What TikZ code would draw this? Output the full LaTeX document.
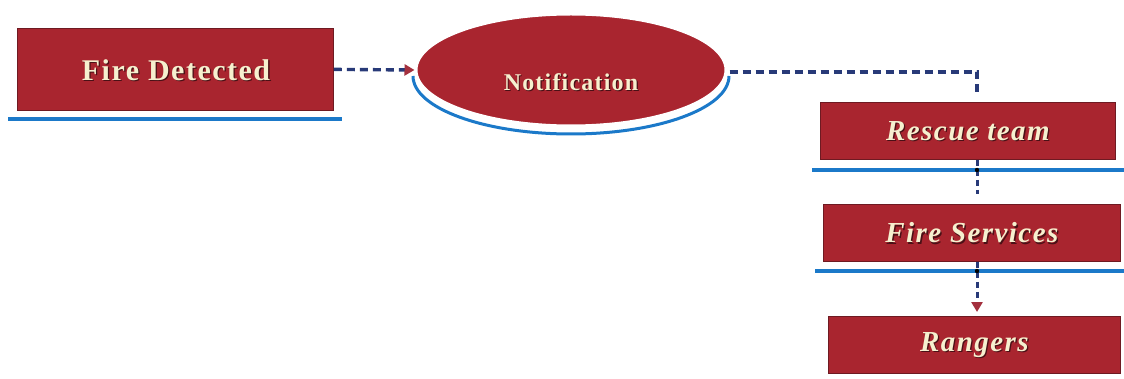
\documentclass[tikz,border=0pt]{standalone}
\usepackage{fontspec}
\setmainfont{Liberation Serif}
\newfontfamily\labelfont[LetterSpace=5]{Liberation Serif}
\usetikzlibrary{arrows.meta,shapes.geometric,calc}
\definecolor{boxred}{HTML}{A9252F}
\definecolor{boxedge}{HTML}{6E1A22}
\definecolor{labelcream}{HTML}{F6F0CF}
\definecolor{labelshade}{HTML}{4A1016}
\definecolor{underblue}{HTML}{1B79C9}
\definecolor{flownavy}{HTML}{283A78}
\definecolor{tipred}{HTML}{A4303E}
\tikzset{
  redbox/.style={draw=boxedge, line width=0.8pt, fill=boxred, rectangle, inner sep=0pt, anchor=north west},
  sidefont/.style={font=\labelfont\bfseries\itshape\fontsize{29}{32}\selectfont},
  boxtext/.style={text=labelcream, sidefont},
  boxshade/.style={text=labelshade, sidefont, xshift=1.3pt, yshift=-1.3pt},
  underline/.style={draw=underblue, line width=4pt},
  flow/.style={draw=flownavy, line width=3.4pt, dash pattern=on 8pt off 5pt},
  stepflow/.style={draw=flownavy, line width=3pt, dash pattern=on 6pt off 4pt},
  flowtip/.style={-{Triangle[length=10pt,width=11pt,fill=tipred,color=tipred]}}
}
\begin{document}
\begin{tikzpicture}[x=1pt,y=-1pt]
\useasboundingbox (0,0) rectangle (1124,379);
\fill[white] (0,0) rectangle (1124,379);

% start box
\node[redbox, minimum width=316pt, minimum height=82pt] (detect) at (17,28) {};
\node[text=labelshade, font=\labelfont\bfseries\fontsize{30}{32}\selectfont, xshift=1.3pt, yshift=-1.3pt] (detectshade) at (176,70) {Fire Detected};
\node[text=labelcream, font=\labelfont\bfseries\fontsize{30}{32}\selectfont] (detectlbl) at (176,70) {Fire Detected};
\draw[underline] (8,119) -- (342,119);

% notification ellipse with its blue underline arc
\draw[draw=underblue, line width=3pt] (413,76) arc[start angle=180, end angle=360, x radius=158pt, y radius=58pt];
\node[ellipse, draw=white, line width=3pt, fill=boxred, minimum width=310pt, minimum height=112pt, inner sep=0pt] (notif) at (571,70) {};
\node[text=labelshade, font=\labelfont\bfseries\fontsize{24}{26}\selectfont, xshift=1.2pt, yshift=-1.2pt] (notifshade) at (571,82) {Notification};
\node[text=labelcream, font=\labelfont\bfseries\fontsize{24}{26}\selectfont] (notiflbl) at (571,82) {Notification};

% responder boxes
\node[redbox, minimum width=295pt, minimum height=57pt] (rescue) at (820,102) {};
\node[boxshade] (rescueshade) at (rescue.center) {Rescue team};
\node[boxtext] (rescuelbl) at (rescue.center) {Rescue team};
\draw[underline] (812,170) -- (1124,170);

\node[redbox, minimum width=297pt, minimum height=57pt] (services) at (823,204) {};
\node[boxshade] (servicesshade) at (services.center) {Fire Services};
\node[boxtext] (serviceslbl) at (services.center) {Fire Services};
\draw[underline] (815,271) -- (1124,271);

\node[redbox, minimum width=292pt, minimum height=57pt] (rangers) at (828,316) {};
\node[boxshade] (rangersshade) at (rangers.center) {Rangers};
\node[boxtext] (rangerslbl) at (rangers.center) {Rangers};

% flow connectors
\coordinate (bend) at (977,72);
\coordinate (rescuein) at (977,94);
\coordinate (rescueout) at (977,160);
\coordinate (servicesin) at (977,194);
\coordinate (servicesout) at (977,262);

\draw[flow, flowtip] (detect.east) -- (notif.west);
\draw[flow] ([xshift=2pt]notif.east |- bend) -- (bend) -- (rescuein);
\draw[stepflow] (rescueout) -- (servicesin);
\draw[stepflow, flowtip] (servicesout) -- ([yshift=4pt]rangers.north -| servicesout);
\fill[black] (977,170) circle (2.2pt);
\fill[black] (977,271) circle (2.2pt);
\end{tikzpicture}
\end{document}
